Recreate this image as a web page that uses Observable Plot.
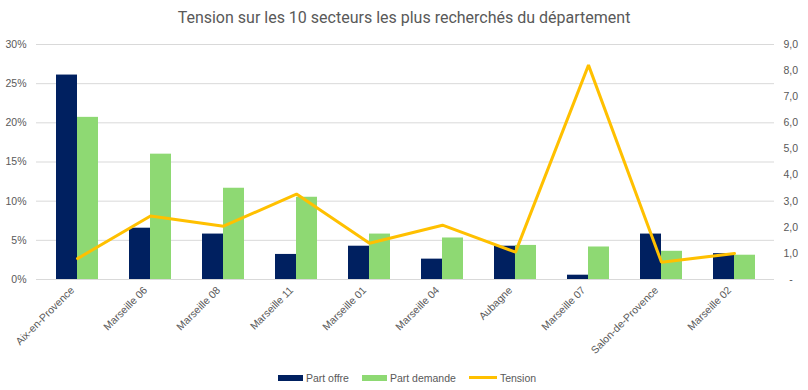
<!DOCTYPE html>
<html>
<head>
<meta charset="utf-8">
<script src="https://cdn.jsdelivr.net/npm/d3@7"></script>
<script src="https://cdn.jsdelivr.net/npm/@observablehq/plot@0.6"></script>
<style>
  html, body { margin: 0; padding: 0; background: #fff; }
  body { width: 808px; height: 390px; overflow: hidden; font-family: "Liberation Sans", sans-serif; color: #595959; }
  #title { height: 35px; line-height: 35px; text-align: center; font-size: 16px; font-family: "Roboto", sans-serif; color: #595959; }
  #legend { display: flex; justify-content: center; align-items: center; height: 25px; font-size: 10.5px; gap: 13px; padding-left: 6px; }
  .item { display: flex; align-items: center; gap: 3px; }
  .sw { width: 25px; height: 6px; }
  .ln { width: 28px; height: 3px; }
</style>
</head>
<body>
<div id="title">Tension sur les 10 secteurs les plus recherchés du département</div>
<div id="chart"></div>
<div id="legend"></div>
<script>
const categories = ["Aix-en-Provence","Marseille 06","Marseille 08","Marseille 11","Marseille 01","Marseille 04","Aubagne","Marseille 07","Salon-de-Provence","Marseille 02"];
const partOffre = [26.1, 6.55, 5.8, 3.2, 4.25, 2.6, 4.25, 0.55, 5.8, 3.3];
const partDemande = [20.7, 16.0, 11.65, 10.5, 5.8, 5.3, 4.35, 4.15, 3.6, 3.1];
const tension = [0.80, 2.43, 2.04, 3.27, 1.39, 2.08, 1.05, 8.21, 0.66, 1.0];
const leftTicks = [0, 5, 10, 15, 20, 25, 30];
const rightTicks = [0, 1, 2, 3, 4, 5, 6, 7, 8, 9];
const seriesNames = ["Part offre", "Part demande", "Tension"];
const colors = ["#002060", "#8ED973", "#FFC000"];

const rows = categories.map((c, i) => ({cat: c, offre: partOffre[i], demande: partDemande[i], tension: tension[i]}));
const k = 30 / 9; // right axis (0–9) mapped onto left axis (0–30%)

const chart = Plot.plot({
  width: 808,
  height: 330,
  marginTop: 9,
  marginBottom: 86,
  marginLeft: 36,
  marginRight: 34,
  style: {fontFamily: "Liberation Sans, sans-serif", fontSize: "10.5px", color: "#595959", background: "white", overflow: "visible"},
  x: {domain: categories, paddingInner: 0.43, paddingOuter: 0.215, align: 0.5},
  y: {domain: [0, 30]},
  marks: [
    Plot.ruleY(leftTicks, {stroke: "#d9d9d9", strokeWidth: 1}),
    Plot.barY(rows, {x: "cat", y: "offre", fill: colors[0], insetRight: 21}),
    Plot.barY(rows, {x: "cat", y: "demande", fill: colors[1], insetLeft: 21}),
    Plot.line(rows, {x: "cat", y: d => d.tension * k, stroke: colors[2], strokeWidth: 3, strokeLinejoin: "miter"}),
    Plot.axisY({ticks: leftTicks, tickFormat: d => d + "%", tickSize: 0, tickPadding: 10, label: null}),
    Plot.axisY({anchor: "right", ticks: rightTicks.map(t => t * k), tickFormat: v => { const n = Math.round(v / k); return n === 0 ? "  -" : n.toFixed(1).replace(".", ","); }, tickSize: 0, tickPadding: 9, textAnchor: "start", label: null}),
    Plot.axisX({tickRotate: -45, tickSize: 0, tickPadding: 6, dx: -5, dy: 3, label: null})
  ]
});
document.getElementById("chart").appendChild(chart);

const legend = document.getElementById("legend");
seriesNames.forEach((name, i) => {
  const it = document.createElement("div");
  it.className = "item";
  const sw = document.createElement("div");
  sw.className = i === 2 ? "ln" : "sw";
  sw.style.background = colors[i];
  const t = document.createElement("span");
  t.textContent = name;
  it.appendChild(sw); it.appendChild(t);
  legend.appendChild(it);
});
</script>
</body>
</html>
